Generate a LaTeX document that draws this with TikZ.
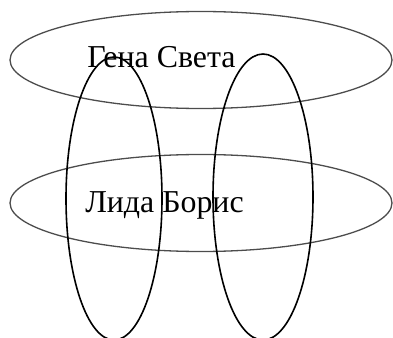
\documentclass[tikz,border=0pt]{standalone}
\usepackage{fontspec}
\setmainfont{Liberation Serif}
\begin{document}
\begin{tikzpicture}[x=1bp,y=1bp,
  hring/.style={draw=black!70,line width=1.3bp},
  vring/.style={draw=black,line width=1.6bp},
  lbl/.style={font=\fontsize{32}{34}\selectfont,inner sep=0pt,anchor=base}]
\useasboundingbox (0,0) rectangle (393,338);
\clip (0,0) rectangle (393,338);
\draw[hring] (201,278) ellipse [x radius=191, y radius=48.5];
\draw[hring] (201,135) ellipse [x radius=191, y radius=48.5];
\draw[vring] (114,139.5) ellipse [x radius=48, y radius=141.5];
\draw[vring] (263,141) ellipse [x radius=50, y radius=143];
\node[lbl] (top) at (161.5,271) {Гена Света};
\node[lbl] (bot) at (164.5,126) {Лида Борис};
\end{tikzpicture}
\end{document}
